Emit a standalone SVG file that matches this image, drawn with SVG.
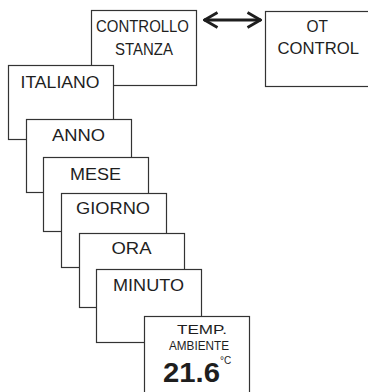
<svg xmlns="http://www.w3.org/2000/svg" width="368" height="392" viewBox="0 0 368 392">
  <defs>
    <style>
      .box { fill: #ffffff; stroke: #333333; stroke-width: 1.2; }
      .lbl { font-family: "Liberation Sans", Arial, sans-serif; font-size: 17px; fill: #1e1e1e; }
      .sm { font-family: "Liberation Sans", Arial, sans-serif; font-size: 13px; fill: #1e1e1e; }
      .big { font-family: "Liberation Sans", Arial, sans-serif; font-size: 28px; font-weight: bold; fill: #1e1e1e; }
      .deg { font-family: "Liberation Sans", Arial, sans-serif; font-size: 10px; fill: #1e1e1e; }
      .conn { fill: none; stroke: #1e1e1e; stroke-width: 2.8; }
    </style>
    <marker id="chev" viewBox="0 0 16 18" refX="15" refY="9" markerWidth="16" markerHeight="18" markerUnits="userSpaceOnUse" orient="auto-start-reverse">
      <path d="M1.5,1.5 L14.5,9 L1.5,16.5" fill="none" stroke="#1e1e1e" stroke-width="2.8"/>
    </marker>
  </defs>

  <g id="node-controllo-stanza">
    <rect class="box" x="91.5" y="10.5" width="105" height="75"/>
    <text class="lbl" x="96" y="32" textLength="93" lengthAdjust="spacingAndGlyphs">CONTROLLO</text>
    <text class="lbl" x="115" y="55" textLength="58" lengthAdjust="spacingAndGlyphs">STANZA</text>
  </g>

  <g id="node-ot-control">
    <rect class="box" x="265.5" y="11.5" width="110" height="75"/>
    <text class="lbl" x="306.5" y="32" textLength="21.5" lengthAdjust="spacingAndGlyphs">OT</text>
    <text class="lbl" x="277.5" y="53.5" textLength="81.5" lengthAdjust="spacingAndGlyphs">CONTROL</text>
  </g>

  <g id="node-italiano">
    <rect class="box" x="8.5" y="65.5" width="105" height="74"/>
    <text class="lbl" x="20.5" y="88" textLength="79" lengthAdjust="spacingAndGlyphs">ITALIANO</text>
  </g>

  <g id="node-anno">
    <rect class="box" x="26.5" y="119.5" width="105" height="73"/>
    <text class="lbl" x="52" y="141" textLength="53" lengthAdjust="spacingAndGlyphs">ANNO</text>
  </g>

  <g id="node-mese">
    <rect class="box" x="43.5" y="157.5" width="105" height="74"/>
    <text class="lbl" x="70" y="180" textLength="51" lengthAdjust="spacingAndGlyphs">MESE</text>
  </g>

  <g id="node-giorno">
    <rect class="box" x="61.5" y="193.5" width="105" height="74"/>
    <text class="lbl" x="76" y="214" textLength="74" lengthAdjust="spacingAndGlyphs">GIORNO</text>
  </g>

  <g id="node-ora">
    <rect class="box" x="79.5" y="233.5" width="105" height="74"/>
    <text class="lbl" x="111.5" y="254" textLength="40" lengthAdjust="spacingAndGlyphs">ORA</text>
  </g>

  <g id="node-minuto">
    <rect class="box" x="96.5" y="269.5" width="105" height="73"/>
    <text class="lbl" x="113" y="291" textLength="71" lengthAdjust="spacingAndGlyphs">MINUTO</text>
  </g>

  <g id="node-temp-ambiente">
    <rect class="box" x="144.5" y="316.5" width="105" height="80"/>
    <text class="sm" x="177" y="334" textLength="50" lengthAdjust="spacingAndGlyphs">TEMP.</text>
    <text class="sm" x="169" y="350" textLength="60" lengthAdjust="spacingAndGlyphs">AMBIENTE</text>
    <text class="big" x="163" y="382" textLength="57" lengthAdjust="spacingAndGlyphs">21.6</text>
    <text class="deg" x="220" y="364">°C</text>
  </g>

  <g id="connectors">
    <line class="conn" x1="204" y1="20" x2="261" y2="20" marker-start="url(#chev)" marker-end="url(#chev)"/>
  </g>
</svg>
